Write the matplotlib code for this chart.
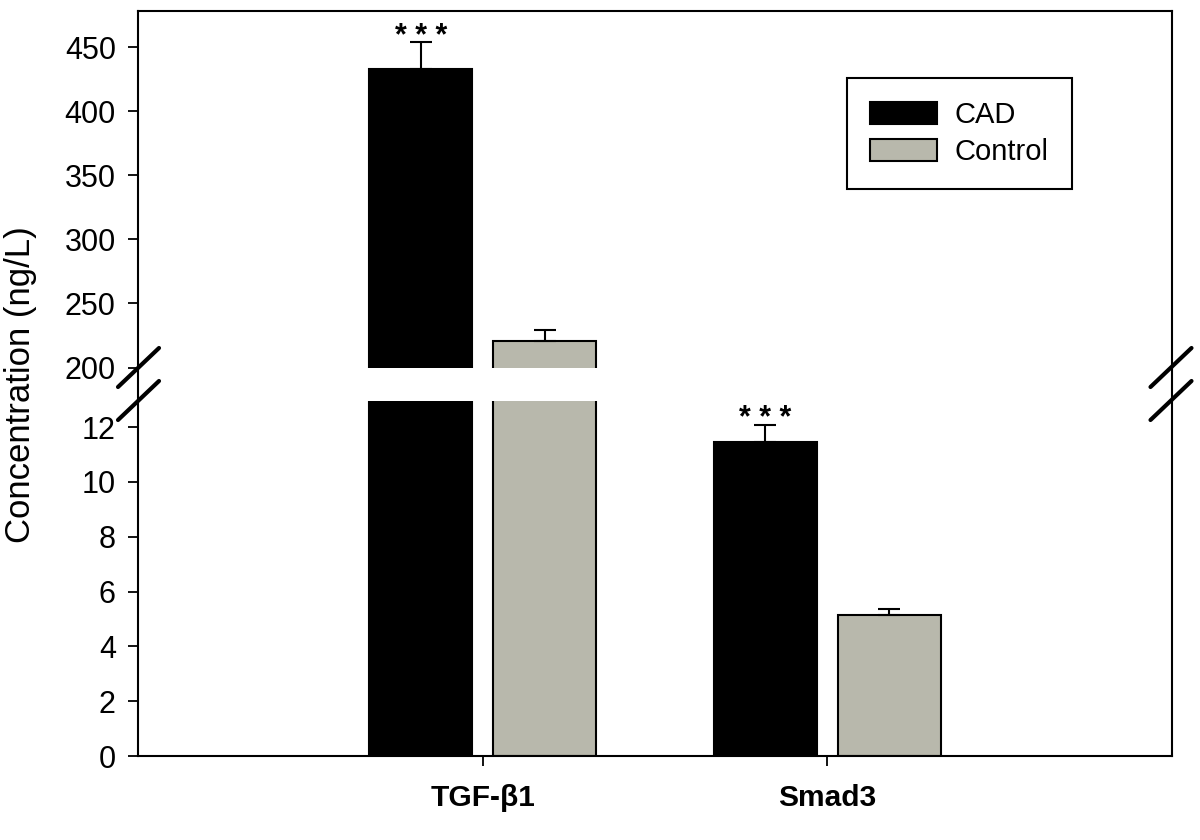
import numpy as np
import matplotlib
matplotlib.use("Agg")
import matplotlib.pyplot as plt
from matplotlib.lines import Line2D
from matplotlib.patches import Patch

plt.rcParams["font.family"] = ["Liberation Sans", "DejaVu Sans"]

# data
markers = ["TGF-β1", "Smad3"]
groups = ["CAD", "Control"]
cad_mean = [432.8, 11.45]
cad_err = [21.3, 0.64]
ctrl_mean = [220.5, 5.16]
ctrl_err = [8.6, 0.20]
stars = ["* * *", "* * *"]

upper_ticks = [200, 250, 300, 350, 400, 450]
lower_ticks = [0, 2, 4, 6, 8, 10, 12]

colors = {"CAD": "#000000", "Control": "#b8b8ac"}

W, H = 1200, 840
fig = plt.figure(figsize=(12, 8.4), dpi=100)

left, right = 138 / W, 1172 / W
ax_hi = fig.add_axes([left, 1 - 367.5 / H, right - left, (367.5 - 11) / H])
ax_lo = fig.add_axes([left, 1 - 756 / H, right - left, (756 - 400.5) / H])

x = np.arange(1, len(markers) + 1)
width = 0.30
off = 0.18

for ax in (ax_hi, ax_lo):
    ax.bar(x - off, cad_mean, width, color=colors["CAD"], edgecolor="black",
           linewidth=1.5, zorder=2)
    ax.bar(x + off, ctrl_mean, width, color=colors["Control"], edgecolor="black",
           linewidth=1.5, zorder=2)
    ax.errorbar(x - off, cad_mean, yerr=[np.zeros(len(x)), cad_err], fmt="none",
                ecolor="black", elinewidth=1.5, capsize=8, capthick=1.5, zorder=3)
    ax.errorbar(x + off, ctrl_mean, yerr=[np.zeros(len(x)), ctrl_err], fmt="none",
                ecolor="black", elinewidth=1.5, capsize=8, capthick=1.5, zorder=3)
    ax.set_xlim(0, 3)
    for s in ax.spines.values():
        s.set_linewidth(1.5)
    ax.tick_params(axis="y", direction="out", length=7, width=1.3,
                   labelsize=22, pad=9, right=False)

ax_hi.set_ylim(200, 478.5)
ax_lo.set_ylim(0, 12.97)
ax_hi.set_yticks(upper_ticks)
ax_lo.set_yticks(lower_ticks)

ax_hi.spines["bottom"].set_visible(False)
ax_lo.spines["top"].set_visible(False)
ax_hi.set_xticks([])
ax_lo.set_xticks(x)
ax_lo.set_xticklabels(markers, fontsize=21.5, fontweight="bold")
ax_lo.tick_params(axis="x", direction="out", length=7, width=1.3, pad=13)

# significance stars above CAD bars
for i, (m, e, s) in enumerate(zip(cad_mean, cad_err, stars)):
    ax = ax_hi if m > 100 else ax_lo
    ax.annotate(s, (x[i] - off, m + e), xytext=(0, -2), textcoords="offset points",
                ha="center", va="baseline", fontsize=22, fontweight="bold")

# spines across the gap
for xs in (left, right):
    fig.add_artist(Line2D([xs, xs], [1 - 400.5 / H, 1 - 367.5 / H], color="black",
                          lw=1.5, transform=fig.transFigure))

# break marks
dx, dy = 20.5, 19.5
for xs in (138.5, 1171):
    for yc in (367.5, 400.5):
        fig.add_artist(Line2D([(xs - dx) / W, (xs + dx) / W],
                              [1 - (yc + dy) / H, 1 - (yc - dy) / H],
                              color="black", lw=3, solid_capstyle="round",
                              transform=fig.transFigure))

fig.text(21 / W, 1 - 385 / H, "Concentration (ng/L)", rotation=90,
         ha="center", va="center", fontsize=25)

handles = [Patch(facecolor=colors[g], edgecolor="black", linewidth=1.5) for g in groups]
leg = fig.legend(handles, groups, loc="upper left",
                 bbox_to_anchor=(847 / W, 1 - 78 / H), borderaxespad=0,
                 fontsize=21, handlelength=2.3, handleheight=0.76,
                 handletextpad=0.6, labelspacing=0.3, borderpad=0.8,
                 fancybox=False, framealpha=1)
leg.get_frame().set_edgecolor("black")
leg.get_frame().set_linewidth(1.5)

fig.savefig("out.png", dpi=100)
